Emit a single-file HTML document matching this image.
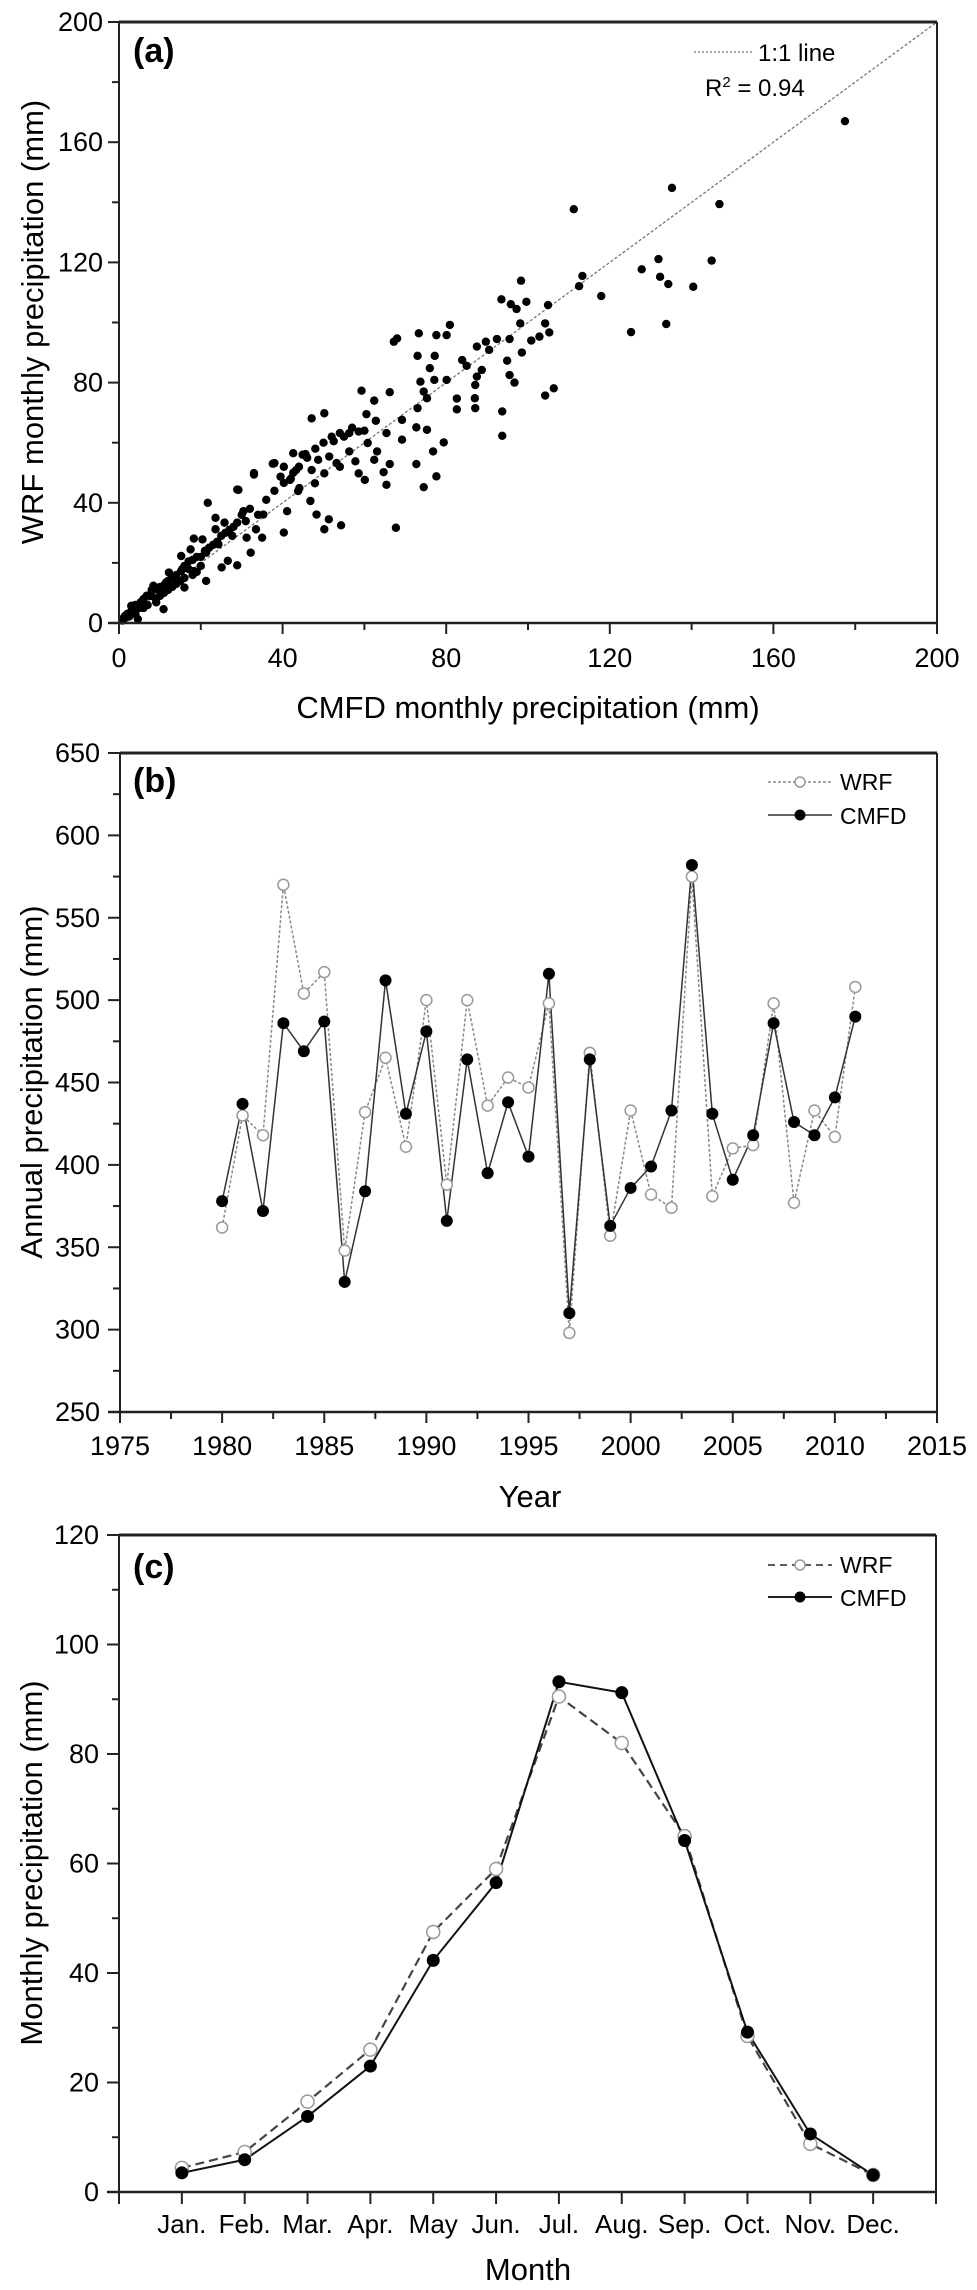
<!DOCTYPE html>
<html><head><meta charset="utf-8"><style>
html,body{margin:0;padding:0;background:#fff;}
svg{display:block;font-family:"Liberation Sans",Arial,sans-serif;}
</style></head>
<body>
<svg id="fig" width="977" height="2290" viewBox="0 0 977 2290" xmlns="http://www.w3.org/2000/svg"></svg>
<script>
// ---------- Panel (a) data ----------
const scatterCMFD = [177.5,135.2,146.8,111.2,144.9,131.9,127.8,113.3,112.5,132.3,134.3,140.4,117.9,98.3,125.2,133.8,104.9,105.2,104.2,104.2,106.3,93.5,95.8,97.2,99.6,98.1,95.5,100.8,102.8,98.5,89.7,92.4,90.5,94.9,95.5,96.7,83.9,85,87.5,88.7,87.5,87.1,87,87.1,82.6,82.6,93.7,93.7,80.9,80.1,77.6,73.3,68,67.2,73,77.2,76,77.1,80.1,73.7,74.5,75.3,73,59.3,66.2,62.4,60.5,62.8,69.2,72.7,75.3,50.2,47.1,54,56.3,58.6,65.4,69.2,79.4,76.8,72.7,77.6,74.5,52.5,56.3,60.8,63.1,57.8,62.4,66.2,64.7,60.1,65.4,42.6,45.6,48.7,51.4,53.2,38,33,40.3,43.3,47.1,50.2,54,58.6,39.5,41.8,44.1,47.9,29.2,21.7,28.9,33,37.6,44.9,40.3,43.8,46.8,41.1,48.3,50.2,51.3,54.3,67.7,42.6,40.3,35.3,30.4,25.8,23.6,23.6,28.9,31,33.5,31.2,35,27.7,24.3,20.4,18.3,32.2,28.9,25.1,26.6,21.3,17.5,15.2,21.3,18.3,15.2,12.2,13.7,10.9,16,10.6,8.4,6.8,9.1,10.9,5.3,3,3.8,1.5,0.8,4.6,2,3,4,5,6,7,8,9,10,11,12,13,14,15,16,17,18,19,20,22,1,2,4,6,8,10,12,14,16,18,20,24,26,28,30,32,34,36,38,42,44,46,48,50,52,55,57,60,1.2,2.5,3.5,5.5,7.5,9.5,11.5,13,15.5,17,19,21,23,25,27];
const scatterWRF  = [167,144.8,139.4,137.7,120.6,121.1,117.7,115.5,112.1,115.2,112.8,111.9,108.8,113.9,96.8,99.5,105.8,96.7,99.7,75.7,78.1,107.7,106.1,104.5,106.9,99.7,94.5,94,95.3,90,93.6,94.5,90.9,87.3,82.5,80,87.5,85.6,92,84.2,82,79.2,74.8,71.5,74.7,71.1,70.4,62.3,99.2,95.8,95.8,96.4,94.7,93.6,88.9,88.9,84.8,80.9,80.9,80.3,77,74.8,71.5,77.3,76.8,74,69.5,67.3,67.6,65.1,64.3,69.8,68.1,63.2,63.2,63.7,63.2,61,60.1,57.1,52.9,48.8,45.2,60.5,57.1,59.9,57.1,53.8,54.3,52.9,50.2,47.6,46,56.5,56.2,54.3,55.4,53.2,53.2,49.9,52,50.9,50.9,49.8,52,49.8,48.7,47.6,44.9,46.5,44.3,40,44.4,49.4,53,56,46.6,43.9,40.6,37.2,36.1,31.2,34.5,32.5,31.7,50,30.1,36.1,37.2,33.4,35,31.2,33.4,33.9,31.2,28.4,28.4,29,26.2,27.8,28.1,23.4,19.2,18.5,20.7,23.4,24.5,22.3,14,17.3,17.3,16.8,14.6,12.4,11.8,10.2,12.4,9.1,6.9,4.6,6.9,5.7,3.5,2.4,0.8,1.3,2,4,3,5,8,6,9,8,12,10,14,12,16,14,19,18,21,17,22,25,1,3,6,5,11,9,11,13,15,16,19,27,30,32,36,38,36,41,44,48,52,55,58,60,62,62,65,64,1.8,2.2,4.5,6.5,9,11,13.5,15.5,18,20.5,22,24,26,29,31];
const axisATicks = [0,40,80,120,160,200];

// ---------- Panel (b) data ----------
const years = [];
for (let y = 1980; y <= 2011; y++) years.push(y);
const annualWRF  = [362,430,418,570,504,517,348,432,465,411,500,388,500,436,453,447,498,298,468,357,433,382,374,575,381,410,412,498,377,433,417,508];
const annualCMFD = [378,437,372,486,469,487,329,384,512,431,481,366,464,395,438,405,516,310,464,363,386,399,433,582,431,391,418,486,426,418,441,490];
const yearTicks = [1975,1980,1985,1990,1995,2000,2005,2010,2015];
const annualTicks = [250,300,350,400,450,500,550,600,650];

// ---------- Panel (c) data ----------
const months = ["Jan.","Feb.","Mar.","Apr.","May","Jun.","Jul.","Aug.","Sep.","Oct.","Nov.","Dec."];
const monthlyWRF  = [4.4,7.3,16.5,26,47.5,59,90.5,82,65,28.5,8.8,3.1];
const monthlyCMFD = [3.5,5.9,13.8,23,42.3,56.5,93.2,91.2,64.2,29.2,10.6,3.1];
const monthlyTicks = [0,20,40,60,80,100,120];

const NS = "http://www.w3.org/2000/svg";
const svg = document.getElementById('fig');
function mk(tag, attrs, parent) {
  const e = document.createElementNS(NS, tag);
  for (const k in attrs) e.setAttribute(k, attrs[k]);
  (parent || svg).appendChild(e);
  return e;
}
function txt(s, attrs, parent) { const t = mk('text', attrs, parent); t.textContent = s; return t; }

// ===== Panel (a) =====
const ax = v => 119 + v / 200 * 818;
const ay = v => 623 - v / 200 * 601;
const gA = mk('g', {});


// 1:1 line
const oneLine = mk('line', {x1: ax(0), y1: ay(0), x2: ax(200), y2: ay(200), stroke: '#777', 'stroke-width': 1.3, 'stroke-dasharray': '3,2'}, gA);


for (let i = 0; i < scatterCMFD.length; i++) {
  const c = mk('circle', {cx: ax(scatterCMFD[i]), cy: ay(scatterWRF[i]), r: 4.2, fill: '#000'}, gA);
  
  
}
// frame
mk('line', {x1: 119, y1: 22, x2: 937, y2: 22, stroke: '#222', 'stroke-width': 3}, gA);
mk('line', {x1: 937, y1: 22, x2: 937, y2: 623, stroke: '#222', 'stroke-width': 2}, gA);
mk('line', {x1: 119, y1: 22, x2: 119, y2: 623, stroke: '#222', 'stroke-width': 2}, gA);
mk('line', {x1: 108, y1: 623, x2: 937, y2: 623, stroke: '#222', 'stroke-width': 2.5}, gA);
for (let v = 0; v <= 200; v += 20) {
  const major = v % 40 === 0;
  mk('line', {x1: ax(v), y1: 623, x2: ax(v), y2: 623 + (major ? 11 : 7), stroke: '#222', 'stroke-width': 2}, gA);
  mk('line', {x1: 119, y1: ay(v), x2: 119 - (major ? 11 : 7), y2: ay(v), stroke: '#222', 'stroke-width': 2}, gA);
}
axisATicks.forEach(v => {
  const t = txt(String(v), {x: ax(v), y: 667, 'font-size': 27, 'text-anchor': 'middle'}, gA);
  
  
  const t2 = txt(String(v), {x: 103, y: ay(v) + 9, 'font-size': 27, 'text-anchor': 'end'}, gA);
  
  
});
const xtA = txt('CMFD monthly precipitation (mm)', {x: 528, y: 718, 'font-size': 31, 'text-anchor': 'middle'}, gA);


const ytA = txt('WRF monthly precipitation (mm)', {x: 0, y: 0, 'font-size': 31, 'text-anchor': 'middle', transform: 'translate(43,322) rotate(-90)'}, gA);


const laA = txt('(a)', {x: 133, y: 62, 'font-size': 34, 'font-weight': 'bold'}, gA);


const lgA = mk('g', {}, gA);


mk('line', {x1: 694, y1: 52, x2: 752, y2: 52, stroke: '#888', 'stroke-width': 1.5, 'stroke-dasharray': '2,2'}, lgA);
txt('1:1 line', {x: 758, y: 61, 'font-size': 24}, lgA);
const r2 = txt('R', {x: 705, y: 96, 'font-size': 24}, lgA);
const sup = mk('tspan', {dy: -9, 'font-size': 15}, r2); sup.textContent = '2';
const rest = mk('tspan', {dy: 9}, r2); rest.textContent = ' = 0.94';

// ===== Panel (b) =====
const bx = v => 120 + (v - 1975) / 40 * 817;
const by = v => 1412 - (v - 250) / 400 * 659;
const gB = mk('g', {});


mk('line', {x1: 120, y1: 753, x2: 937, y2: 753, stroke: '#222', 'stroke-width': 3}, gB);
mk('line', {x1: 937, y1: 753, x2: 937, y2: 1412, stroke: '#222', 'stroke-width': 2}, gB);
mk('line', {x1: 120, y1: 753, x2: 120, y2: 1412, stroke: '#222', 'stroke-width': 2}, gB);
mk('line', {x1: 108, y1: 1412, x2: 937, y2: 1412, stroke: '#222', 'stroke-width': 2.5}, gB);
for (let v = 1975; v <= 2015; v += 2.5) {
  const major = v % 5 === 0;
  mk('line', {x1: bx(v), y1: 1412, x2: bx(v), y2: 1412 + (major ? 11 : 7), stroke: '#222', 'stroke-width': 2}, gB);
}
for (let v = 250; v <= 650; v += 25) {
  const major = v % 50 === 0;
  mk('line', {x1: 120, y1: by(v), x2: 120 - (major ? 12 : 7), y2: by(v), stroke: '#222', 'stroke-width': 2}, gB);
}
yearTicks.forEach(v => {
  const t = txt(String(v), {x: bx(v), y: 1455, 'font-size': 27, 'text-anchor': 'middle'}, gB);
  
  
});
annualTicks.forEach(v => {
  const t = txt(String(v), {x: 100, y: by(v) + 9, 'font-size': 27, 'text-anchor': 'end'}, gB);
  
  
});
const wPts = years.map((y, i) => bx(y) + ',' + by(annualWRF[i])).join(' ');
const cPts = years.map((y, i) => bx(y) + ',' + by(annualCMFD[i])).join(' ');
const wLine = mk('polyline', {points: wPts, fill: 'none', stroke: '#888', 'stroke-width': 1.5, 'stroke-dasharray': '3,2'}, gB);


const cLine = mk('polyline', {points: cPts, fill: 'none', stroke: '#333', 'stroke-width': 1.5}, gB);


years.forEach((y, i) => {
  const a = mk('circle', {cx: bx(y), cy: by(annualWRF[i]), r: 5.5, fill: '#fff', stroke: '#999', 'stroke-width': 1.5}, gB);
  
  
  const b = mk('circle', {cx: bx(y), cy: by(annualCMFD[i]), r: 6, fill: '#000'}, gB);
  
  
});
const laB = txt('(b)', {x: 133, y: 792, 'font-size': 34, 'font-weight': 'bold'}, gB);


const lgB = mk('g', {}, gB);


mk('line', {x1: 768, y1: 782, x2: 832, y2: 782, stroke: '#888', 'stroke-width': 1.5, 'stroke-dasharray': '3,2'}, lgB);
mk('circle', {cx: 800, cy: 782, r: 5, fill: '#fff', stroke: '#999', 'stroke-width': 1.5}, lgB);
txt('WRF', {x: 840, y: 790, 'font-size': 23}, lgB);
mk('line', {x1: 768, y1: 815, x2: 832, y2: 815, stroke: '#333', 'stroke-width': 1.5}, lgB);
mk('circle', {cx: 800, cy: 815, r: 5.5, fill: '#000'}, lgB);
txt('CMFD', {x: 840, y: 824, 'font-size': 23}, lgB);
const xtB = txt('Year', {x: 530, y: 1507, 'font-size': 31, 'text-anchor': 'middle'}, gB);


const ytB = txt('Annual precipitation (mm)', {x: 0, y: 0, 'font-size': 31, 'text-anchor': 'middle', transform: 'translate(42,1082) rotate(-90)'}, gB);



// ===== Panel (c) =====
const cx = i => 119 + (i + 1) / 13 * 817;
const cy = v => 2192 - v / 120 * 657;
const gC = mk('g', {});


mk('line', {x1: 119, y1: 1535, x2: 936, y2: 1535, stroke: '#222', 'stroke-width': 3}, gC);
mk('line', {x1: 936, y1: 1535, x2: 936, y2: 2192, stroke: '#222', 'stroke-width': 2}, gC);
mk('line', {x1: 119, y1: 1535, x2: 119, y2: 2192, stroke: '#222', 'stroke-width': 2}, gC);
mk('line', {x1: 107, y1: 2192, x2: 936, y2: 2192, stroke: '#222', 'stroke-width': 2.5}, gC);
for (let i = -1; i <= 12; i++) {
  mk('line', {x1: cx(i), y1: 2192, x2: cx(i), y2: 2204, stroke: '#222', 'stroke-width': 2}, gC);
}
for (let v = 0; v <= 120; v += 10) {
  const major = v % 20 === 0;
  mk('line', {x1: 119, y1: cy(v), x2: 119 - (major ? 12 : 7), y2: cy(v), stroke: '#222', 'stroke-width': 2}, gC);
}
months.forEach((m, i) => {
  const t = txt(m, {x: cx(i), y: 2233, 'font-size': 26, 'text-anchor': 'middle'}, gC);
  
  
});
monthlyTicks.forEach(v => {
  const t = txt(String(v), {x: 99, y: cy(v) + 9, 'font-size': 27, 'text-anchor': 'end'}, gC);
  
  
});
const mw = mk('polyline', {points: months.map((m, i) => cx(i) + ',' + cy(monthlyWRF[i])).join(' '), fill: 'none', stroke: '#444', 'stroke-width': 2.2, 'stroke-dasharray': '9,5'}, gC);


const mc = mk('polyline', {points: months.map((m, i) => cx(i) + ',' + cy(monthlyCMFD[i])).join(' '), fill: 'none', stroke: '#111', 'stroke-width': 2}, gC);


months.forEach((m, i) => {
  const a = mk('circle', {cx: cx(i), cy: cy(monthlyWRF[i]), r: 6.5, fill: '#fff', stroke: '#999', 'stroke-width': 1.5}, gC);
  
  
  const b = mk('circle', {cx: cx(i), cy: cy(monthlyCMFD[i]), r: 6.5, fill: '#000'}, gC);
  
  
});
const laC = txt('(c)', {x: 133, y: 1578, 'font-size': 34, 'font-weight': 'bold'}, gC);


const lgC = mk('g', {}, gC);


mk('line', {x1: 768, y1: 1565, x2: 832, y2: 1565, stroke: '#444', 'stroke-width': 1.8, 'stroke-dasharray': '7,5'}, lgC);
mk('circle', {cx: 800, cy: 1565, r: 5, fill: '#fff', stroke: '#999', 'stroke-width': 1.5}, lgC);
txt('WRF', {x: 840, y: 1573, 'font-size': 23}, lgC);
mk('line', {x1: 768, y1: 1597, x2: 832, y2: 1597, stroke: '#222', 'stroke-width': 2}, lgC);
mk('circle', {cx: 800, cy: 1597, r: 5.5, fill: '#000'}, lgC);
txt('CMFD', {x: 840, y: 1606, 'font-size': 23}, lgC);
const xtC = txt('Month', {x: 528, y: 2280, 'font-size': 31, 'text-anchor': 'middle'}, gC);


const ytC = txt('Monthly precipitation (mm)', {x: 0, y: 0, 'font-size': 31, 'text-anchor': 'middle', transform: 'translate(42,1863) rotate(-90)'}, gC);


</script>
</body></html>
